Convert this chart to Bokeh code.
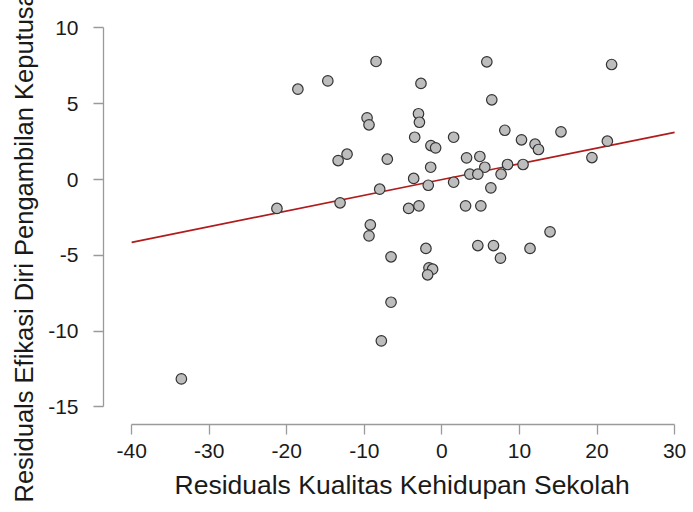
from bokeh.plotting import figure
from bokeh.models import Range1d, FixedTicker, Title
from bokeh.embed import file_html
from bokeh.resources import INLINE

# Residuals Kualitas Kehidupan Sekolah (x) vs Residuals Efikasi Diri Pengambilan Keputusan (y)
x_resid = [-8.49, -14.71, -18.57, -2.70, -9.65, -9.40, -3.02, -2.90, -3.51, -12.23,
           -13.38, -7.04, -3.64, -8.02, -21.27, -13.13, -4.29, -2.96, 5.79, 21.88,
           6.43, 8.11, 15.35, 1.51, 10.26, 12.01, 12.45, 21.33, -1.42, -0.81,
           19.34, 3.18, 4.89, -1.45, 5.53, 8.46, 10.46, 3.60, 4.63, 7.63,
           1.51, -1.76, 6.31, 3.05, 5.02, -9.23, -9.40, -6.56, -6.56, -7.81,
           -33.59, 13.94, -2.06, 4.63, 6.65, 11.36, 7.55, -1.67, -1.20, -1.84]
y_resid = [7.79, 6.51, 5.96, 6.34, 4.07, 3.61, 4.34, 3.78, 2.79, 1.67,
           1.25, 1.34, 0.07, -0.64, -1.91, -1.54, -1.91, -1.74, 7.77, 7.59,
           5.26, 3.25, 3.15, 2.79, 2.62, 2.33, 1.98, 2.53, 2.24, 2.09,
           1.45, 1.43, 1.52, 0.81, 0.81, 0.99, 0.99, 0.35, 0.35, 0.35,
           -0.18, -0.38, -0.55, -1.74, -1.74, -2.99, -3.72, -5.10, -8.10, -10.65,
           -13.16, -3.45, -4.55, -4.36, -4.36, -4.55, -5.19, -5.83, -5.92, -6.29]

x_ticks = [-40, -30, -20, -10, 0, 10, 20, 30]
y_ticks = [-15, -10, -5, 0, 5, 10]

fit_slope = 0.1037
fit_intercept = 0.0

x_label = "Residuals Kualitas Kehidupan Sekolah"
y_label = "Residuals Efikasi Diri Pengambilan Keputusan"

FONT = "Liberation Sans"

p = figure(width=690, height=512, output_backend="svg", toolbar_location=None,
           x_range=Range1d(-43.63, 30.76), y_range=Range1d(-16.17, 10.495),
           min_border_left=102, min_border_right=10, min_border_top=20, min_border_bottom=88)

p.grid.visible = False
p.outline_line_color = None
p.background_fill_color = "white"
p.border_fill_color = "white"

for ax, ticks in ((p.xaxis, x_ticks), (p.yaxis, y_ticks)):
    ax.ticker = FixedTicker(ticks=ticks)
    ax.major_label_overrides = {t: str(t) for t in ticks}
    ax.bounds = (min(ticks), max(ticks))
    ax.axis_line_color = "#9a9a9a"
    ax.axis_line_width = 1.3
    ax.major_tick_line_color = "#9a9a9a"
    ax.major_tick_line_width = 1.3
    ax.major_tick_in = 0
    ax.major_tick_out = 10
    ax.minor_tick_line_color = None
    ax.major_label_text_font = FONT
    ax.major_label_text_font_size = "21px"
    ax.major_label_text_color = "#1a1a1a"

p.xaxis.major_label_standoff = 9
p.yaxis.major_label_standoff = 15

xs = [min(x_ticks), max(x_ticks)]
ys = [fit_intercept + fit_slope * v for v in xs]
p.line(xs, ys, line_color="#b01c1c", line_width=1.6)

p.scatter(x_resid, y_resid, size=10.5, fill_color="#bdbdbd", line_color="#333333", line_width=1.2)

p.add_layout(Title(text=x_label, align="left", text_font=FONT, text_font_size="26.5px",
                   text_font_style="normal", text_color="#1a1a1a", offset=71, standoff=14), "below")
p.add_layout(Title(text=y_label, align="left", text_font=FONT, text_font_size="25.5px",
                   text_font_style="normal", text_color="#1a1a1a", offset=-78, standoff=15), "left")

open("out.html", "w").write(file_html(p, INLINE))
